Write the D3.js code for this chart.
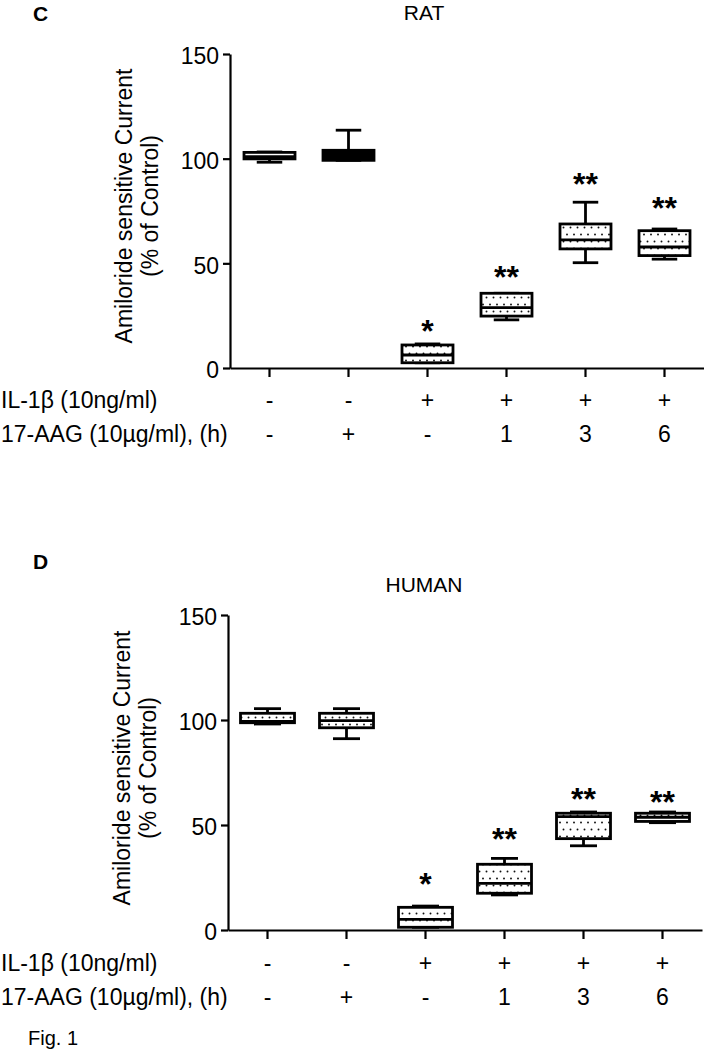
<!DOCTYPE html>
<html><head><meta charset="utf-8">
<script src="https://cdn.jsdelivr.net/npm/d3@7"></script>
<style>body{margin:0;background:#fff}svg{display:block;font-family:"Liberation Sans",Arial,sans-serif}</style>
</head><body><svg id="c" width="704" height="1050"></svg>
<script>
const categories = ["g1","g2","g3","g4","g5","g6"];
const il1bRow = ["-","-","+","+","+","+"];
const aagRow = ["-","+","-","1","3","6"];
const yTicks = [0,50,100,150];

const ratMin = [98.3, 99.2, 2.5, 23.0, 50.3, 52.0];
const ratQ1  = [99.9, 99.2, 2.5, 24.8, 56.9, 53.7];
const ratMed = [101.0, 101.5, 6.2, 28.8, 61.2, 57.8];
const ratQ3  = [103.0, 104.0, 11.0, 35.7, 68.8, 65.6];
const ratMax = [103.2, 113.6, 11.5, 35.7, 79.2, 66.4];
const ratSig = ["", "", "*", "**", "**", "**"];
const ratSigAt = [0, 0, 20.5, 46.3, 90.9, 79.2];
const ratSolid = [false, true, false, false, false, false];

const humMin = [98.1, 91.1, 1.3, 16.7, 40.1, 51.1];
const humQ1  = [98.7, 96.3, 1.3, 17.5, 43.5, 51.7];
const humMed = [99.3, 99.7, 5.1, 22.2, 54.0, 53.7];
const humQ3  = [103.2, 103.2, 10.8, 31.3, 55.6, 55.6];
const humMax = [105.4, 105.4, 11.4, 34.1, 56.2, 56.2];
const humSig = ["", "", "*", "**", "**", "**"];
const humSigAt = [0, 0, 24.8, 46.0, 65.4, 63.8];
const humSolid = [false, false, false, false, false, false];

const svg = d3.select("#c");
const defs = svg.append("defs");
const pat = defs.append("pattern").attr("id","dots").attr("patternUnits","userSpaceOnUse")
  .attr("width",14).attr("height",14);
pat.append("rect").attr("width",14).attr("height",14).attr("fill","#fff");
[[3.5,3.5],[10.5,3.5],[0,10.5],[7,10.5],[14,10.5]].forEach(p=>
  pat.append("circle").attr("cx",p[0]).attr("cy",p[1]).attr("r",0.95).attr("fill","#111"));

function panel(o){
  const g = svg.append("g");
  const x = d3.scaleBand().domain(categories).range([o.x0, o.x1]);
  const y = d3.scaleLinear().domain([0,150]).range([o.yb, o.yt]);
  const bw = o.bw;
  const ya = g.append("g").attr("transform",`translate(${o.x0},0)`)
    .call(d3.axisLeft(y).tickValues(yTicks).tickSize(7).tickSizeOuter(0).tickPadding(4));
  ya.select(".domain").attr("stroke","#000").attr("stroke-width",2.2);
  ya.selectAll(".tick line").attr("stroke","#000").attr("stroke-width",2.2);
  ya.selectAll(".tick text").attr("font-size",23).attr("fill","#000")
    .attr("font-family","Liberation Sans, Arial, sans-serif").attr("dy","0.42em");
  const xa = g.append("g").attr("transform",`translate(0,${o.yb})`)
    .call(d3.axisBottom(x).tickSize(9).tickSizeOuter(0).tickFormat(""));
  xa.select(".domain").attr("stroke","#000").attr("stroke-width",2.2);
  xa.selectAll(".tick line").attr("stroke","#000").attr("stroke-width",2.2);
  categories.forEach((c,i)=>{
    const cx = x(c) + x.bandwidth()/2;
    const bg = g.append("g").attr("stroke","#000").attr("stroke-width",2.8).attr("fill","none");
    bg.append("line").attr("x1",cx).attr("x2",cx).attr("y1",y(o.max[i])).attr("y2",y(o.q3[i]));
    bg.append("line").attr("x1",cx).attr("x2",cx).attr("y1",y(o.q1[i])).attr("y2",y(o.min[i]));
    bg.append("line").attr("x1",cx-bw/4).attr("x2",cx+bw/4).attr("y1",y(o.max[i])).attr("y2",y(o.max[i]));
    bg.append("line").attr("x1",cx-bw/4).attr("x2",cx+bw/4).attr("y1",y(o.min[i])).attr("y2",y(o.min[i]));
    bg.append("rect").attr("x",cx-bw/2).attr("width",bw)
      .attr("y",y(o.q3[i])).attr("height",y(o.q1[i])-y(o.q3[i]))
      .attr("fill",o.solid[i]?"#000":"url(#dots)");
    bg.append("line").attr("x1",cx-bw/2).attr("x2",cx+bw/2).attr("y1",y(o.med[i])).attr("y2",y(o.med[i]));
    if(o.sig[i]) g.append("text").attr("x",cx).attr("y",y(o.sigAt[i])+17)
      .attr("text-anchor","middle").attr("font-size",32).attr("font-weight","bold").text(o.sig[i]);
  });
  const tx = g.append("text").attr("transform",`translate(${o.titleX},${o.titleY}) rotate(-90)`)
    .attr("text-anchor","middle").attr("font-size",23);
  tx.append("tspan").attr("x",0).attr("y",0).text("Amiloride sensitive Current");
  tx.append("tspan").attr("x",0).attr("y",26).text("(% of Control)");
  g.append("text").attr("x",33).attr("y",o.letterY).attr("font-size",21).attr("font-weight","bold").text(o.letter);
  g.append("text").attr("x",o.nameX).attr("y",o.nameY).attr("text-anchor","middle").attr("font-size",21).text(o.name);
  g.append("text").attr("x",1).attr("y",o.row1).attr("font-size",23).text("IL-1β (10ng/ml)");
  g.append("text").attr("x",1).attr("y",o.row2).attr("font-size",23).text("17-AAG (10µg/ml), (h)");
  categories.forEach((c,i)=>{
    const cx = x(c) + x.bandwidth()/2;
    g.append("text").attr("x",cx).attr("y",o.row1).attr("text-anchor","middle").attr("font-size",23).text(il1bRow[i]);
    g.append("text").attr("x",cx).attr("y",o.row2).attr("text-anchor","middle").attr("font-size",23).text(aagRow[i]);
  });
}

panel({x0:230,x1:704,yb:368,yt:54,bw:51,min:ratMin,q1:ratQ1,med:ratMed,q3:ratQ3,max:ratMax,
  sig:ratSig,sigAt:ratSigAt,solid:ratSolid,titleX:132,titleY:206,letter:"C",letterY:21,
  name:"RAT",nameX:424,nameY:20,row1:408,row2:442});
panel({x0:228,x1:702,yb:930,yt:615,bw:54,min:humMin,q1:humQ1,med:humMed,q3:humQ3,max:humMax,
  sig:humSig,sigAt:humSigAt,solid:humSolid,titleX:130,titleY:768,letter:"D",letterY:569,
  name:"HUMAN",nameX:424,nameY:592,row1:971,row2:1005});
svg.append("text").attr("x",28).attr("y",1045).attr("font-size",20).text("Fig. 1");
</script></body></html>
